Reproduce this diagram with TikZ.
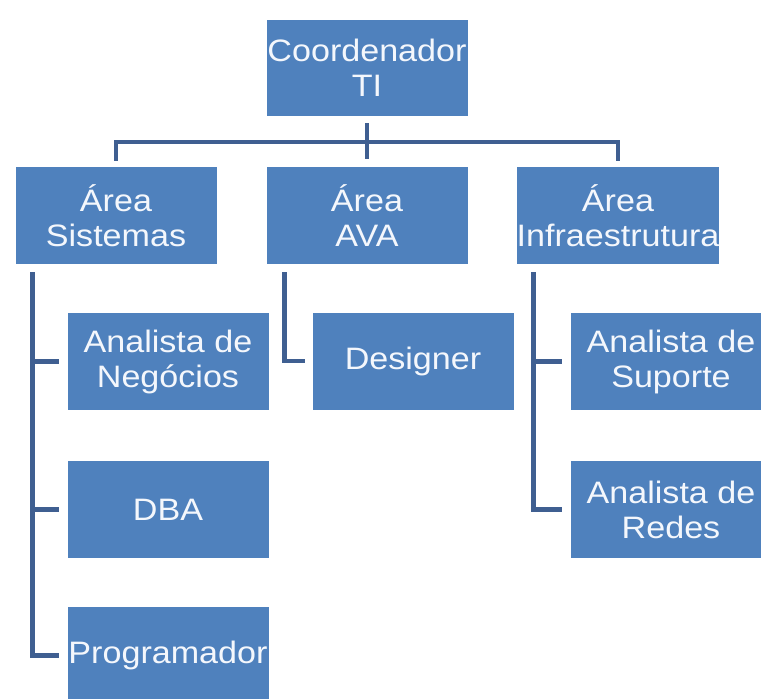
\documentclass[tikz,border=0pt]{standalone}
\usepackage{fontspec}
\setmainfont[FakeStretch=1.1]{Liberation Sans}
\usetikzlibrary{calc}
\definecolor{boxblue}{HTML}{4F81BD}
\definecolor{linkblue}{HTML}{3F5F91}
\definecolor{txtwhite}{HTML}{F4F7FC}
\tikzset{
  orgbox/.style={rectangle, fill=boxblue, text=txtwhite, inner sep=0pt,
    minimum width=201pt, minimum height=97pt, align=center,
    font=\fontsize{31}{35}\selectfont},
  conn/.style={draw=linkblue, line width=4.6pt}
}
\begin{document}
\begin{tikzpicture}[x=1pt,y=1pt]
\useasboundingbox (0,0) rectangle (761,-699);
\clip (0,0) rectangle (761,-699);
\fill[white] (0,0) rectangle (761,-699);
% nodes
\node[orgbox, minimum height=96pt] (coord) at (367,-68) {Coordenador\\TI};
\node[orgbox] (sis) at (116,-215.5) {Área\\Sistemas};
\node[orgbox] (ava) at (367,-215.5) {Área\\AVA};
\node[orgbox] (inf) at (618,-215.5) {Área\\Infraestrutura};
\node[orgbox] (neg) at (168,-361.5) {Analista de\\Negócios};
\node[orgbox] (dba) at (168,-509.5) {DBA};
\node[orgbox] (prog) at (168,-655.5) {Programador};
\node[orgbox] (des) at (413,-361) {Designer};
\node[orgbox] (sup) at (671,-361.5) {Analista de\\Suporte};
\node[orgbox] (red) at (671,-509.5) {Analista de\\Redes};
% top level connectors
\coordinate (bus) at (367,-142);
\draw[conn, shorten <=7pt, shorten >=8pt] (coord.south) -- (ava.north);
\draw[conn] ($(sis.north)+(0,6)$) |- (bus) -| ($(inf.north)+(0,6)$);
% Sistemas branch
\coordinate (sisbar) at ($(sis.south west)+(17,-8)$);
\draw[conn] (sisbar) |- ($(prog.west)+(-8,0)$);
\draw[conn] (sisbar |- neg.west) -- ($(neg.west)+(-8,0)$);
\draw[conn] (sisbar |- dba.west) -- ($(dba.west)+(-8,0)$);
% AVA branch
\coordinate (avabar) at ($(ava.south west)+(18,-8)$);
\draw[conn] (avabar) |- ($(des.west)+(-7,0)$);
% Infra branch
\coordinate (infbar) at ($(inf.south west)+(17,-8)$);
\draw[conn] (infbar) |- ($(red.west)+(-8,0)$);
\draw[conn] (infbar |- sup.west) -- ($(sup.west)+(-8,0)$);
\end{tikzpicture}
\end{document}
